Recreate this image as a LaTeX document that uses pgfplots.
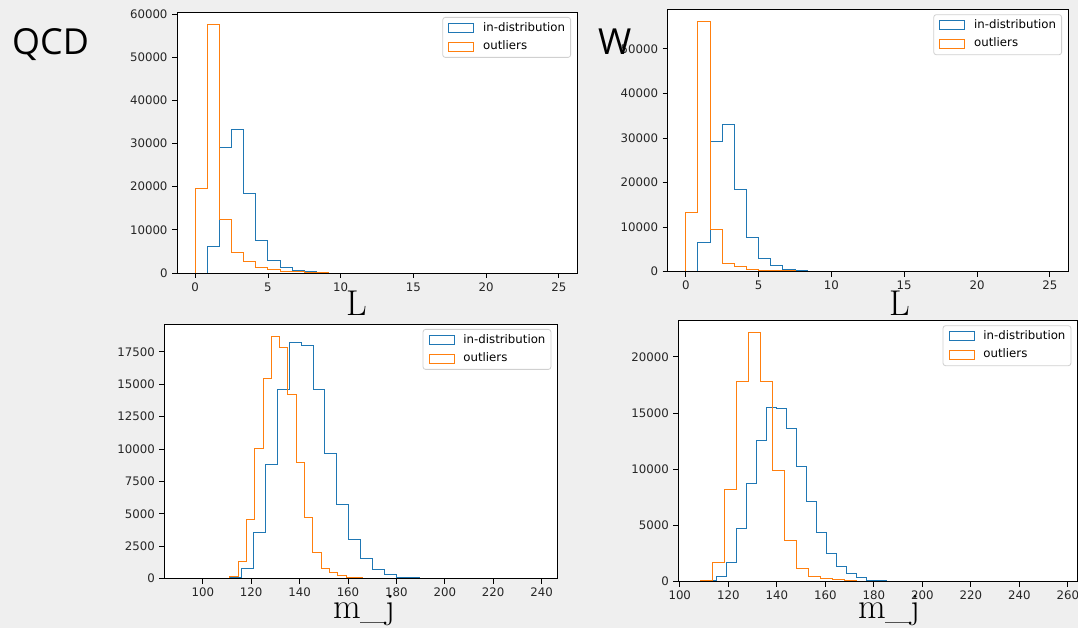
\documentclass[border=0pt]{standalone}
\usepackage{fontspec}
\usepackage{pgfplots}
\pgfplotsset{compat=1.18}
\newfontfamily\dejavu{DejaVu Sans}
\newfontfamily\opensans{Open Sans}
\definecolor{bgc}{HTML}{EFEFEF}
\definecolor{mblue}{HTML}{1F77B4}
\definecolor{morange}{HTML}{FF7F0E}
\definecolor{legc}{HTML}{D0D0D0}
\pgfplotsset{
  histax/.style={
    scale only axis,
    anchor=south west,
    axis background/.style={fill=white},
    axis line style={black, line width=0.8bp},
    axis on top,
    tick align=outside,
    tick pos=left,
    major tick length=5bp,
    every tick/.style={black, line width=0.8bp},
    ymin=0,
    scaled ticks=false,
    /pgf/number format/1000 sep={},
    /pgf/number format/assume math mode=true,
    tick label style={font=\dejavu\fontsize{11.8}{13}\selectfont, text=black!85},
    xticklabel style={yshift=-1bp},
    yticklabel style={xshift=-1bp},
    legend cell align=left,
    legend image code/.code={\draw[##1, sharp corners, line width=0.9bp] (0bp,-4.5bp) rectangle (25bp,4.5bp);},
    legend style={at={(1,1)}, anchor=north east, xshift=-6bp, yshift=-5bp,
      draw=legc, line width=0.8bp, rounded corners=2.5bp, fill=white, fill opacity=0.8, text opacity=1,
      font=\dejavu\fontsize{11.8}{13}\selectfont,
      nodes={inner sep=0pt, text height=9bp, text depth=3bp},
      inner xsep=5.5bp, inner ysep=4.75bp, row sep=6.5bp, column sep=9bp},
  },
  hb/.style={const plot mark left, mblue, line width=1bp, no marks},
  ho/.style={const plot mark left, morange, line width=1bp, no marks},
}
\begin{document}
\begin{tikzpicture}
\useasboundingbox (0,0) rectangle (1078bp,628bp);
\fill[bgc] (0,0) rectangle (1078bp,628bp);

% QCD L
\begin{axis}[histax, at={(177bp,355bp)}, width=400bp, height=261bp,
  xmin=-1.25, xmax=26.25, ymax=60480,
  xtick={0,5,10,15,20,25}, ytick={0,10000,20000,30000,40000,50000,60000}]
\addplot[hb] coordinates {(0.8333,0) (0.8333,6250) (1.6667,29190) (2.5,33360) (3.3333,18370) (4.1667,7490) (5.0,3010) (5.8333,1310) (6.6667,600) (7.5,300) (8.3333,130) (9.1667,0)};
\addlegendentry{in-distribution}
\addplot[ho] coordinates {(0,0) (0,19620) (0.8333,57600) (1.6667,12440) (2.5,4860) (3.3333,2620) (4.1667,1310) (5.0,770) (5.8333,400) (6.6667,250) (7.5,150) (8.3333,80) (9.1667,0)};
\addlegendentry{outliers}
\end{axis}

% W L
\begin{axis}[histax, at={(667.6bp,356.3bp)}, width=400.4bp, height=262.4bp,
  xmin=-1.25, xmax=26.25, ymax=58884,
  xtick={0,5,10,15,20,25}, ytick={0,10000,20000,30000,40000,50000}]
\addplot[hb] coordinates {(0.8333,0) (0.8333,6530) (1.6667,29210) (2.5,33040) (3.3333,18400) (4.1667,7590) (5.0,3020) (5.8333,1350) (6.6667,600) (7.5,250) (8.3333,100) (9.1667,0)};
\addlegendentry{in-distribution}
\addplot[ho] coordinates {(0,0) (0,13290) (0.8333,56080) (1.6667,9550) (2.5,1890) (3.3333,1130) (4.1667,600) (5.0,380) (5.8333,300) (6.6667,200) (7.5,150) (8.3333,100) (9.1667,0)};
\addlegendentry{outliers}
\end{axis}

% QCD m_j
\begin{axis}[histax, at={(164.3bp,49.3bp)}, width=393bp, height=254.7bp,
  xmin=84.1, xmax=246.5, ymax=19646,
  xtick={100,120,140,160,180,200,220,240}, ytick={0,2500,5000,7500,10000,12500,15000,17500}]
\addplot[hb] coordinates {(111.2,0) (111.2,80) (116.1,800) (121.0,3600) (125.9,8790) (130.8,14620) (135.8,18220) (140.7,17990) (145.6,14600) (150.5,9640) (155.4,5760) (160.3,3030) (165.2,1520) (170.1,690) (175.0,310) (179.9,130) (184.8,60) (189.7,30) (194.7,0)};
\addlegendentry{in-distribution}
\addplot[ho] coordinates {(111.2,0) (111.2,150) (114.63,1360) (118.06,4570) (121.49,10050) (124.92,15450) (128.35,18710) (131.78,17840) (135.21,14210) (138.64,9000) (142.07,4730) (145.5,2000) (148.93,800) (152.36,440) (155.79,230) (159.22,130) (162.65,100) (166.08,40) (169.51,20) (172.94,50) (176.37,0)};
\addlegendentry{outliers}
\end{axis}

% W m_j
\begin{axis}[histax, at={(678.3bp,46.3bp)}, width=399bp, height=261.4bp,
  xmin=99.4, xmax=263.9, ymax=23250,
  xtick={100,120,140,160,180,200,220,240,260}, ytick={0,5000,10000,15000,20000}]
\addplot[hb] coordinates {(110.8,0) (110.8,90) (114.94,450) (119.08,1700) (123.22,4700) (127.36,8750) (131.5,12590) (135.64,15530) (139.78,15390) (143.92,13600) (148.06,10270) (152.2,7110) (156.34,4370) (160.48,2530) (164.62,1370) (168.76,710) (172.9,360) (177.04,150) (181.18,80) (185.32,40) (189.46,0)};
\addlegendentry{in-distribution}
\addplot[ho] coordinates {(108.7,0) (108.7,120) (113.65,1730) (118.6,8240) (123.55,17770) (128.5,22140) (133.45,17770) (138.4,9910) (143.35,3630) (148.3,1190) (153.25,420) (158.2,270) (163.15,180) (168.1,90) (173.05,0)};
\addlegendentry{outliers}
\end{axis}

\node[anchor=base west, inner sep=0, font=\opensans\fontsize{36}{40}\selectfont] at (12bp,573bp) {QCD};
\node[anchor=base west, inner sep=0, font=\opensans\fontsize{36}{40}\selectfont] at (598bp,573bp) {W};
\node[anchor=base, inner sep=0, font=\fontsize{36}{40}\selectfont] at (357bp,312bp) {L};
\node[anchor=base, inner sep=0, font=\fontsize{36}{40}\selectfont] at (900bp,312bp) {L};
\node[anchor=base, inner sep=0, font=\fontsize{36}{40}\selectfont] at (364.5bp,10bp) {m\_j};
\node[anchor=base, inner sep=0, font=\fontsize{36}{40}\selectfont] at (889.5bp,10bp) {m\_j};
\end{tikzpicture}
\end{document}
